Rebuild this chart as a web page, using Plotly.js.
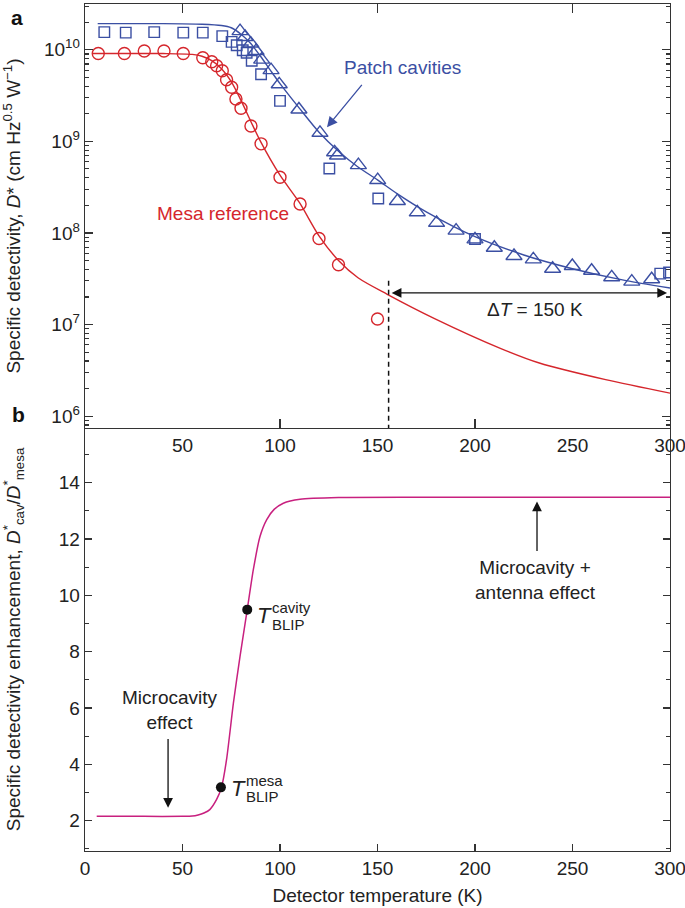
<!DOCTYPE html>
<html><head><meta charset="utf-8">
<script src="https://cdn.plot.ly/plotly-3.0.1.min.js"></script>
<style>html,body{margin:0;padding:0;background:#fff}#c{width:685px;height:908px}</style>
</head><body><div id="c"></div>
<script>
// ---- Panel a: measured D* (cm Hz^0.5 W^-1) vs temperature (K)
var mesaT = [6.8, 20.2, 30.4, 40.5, 50.4, 60.4, 65, 67.5, 70.4, 72.6, 75.2, 77.4, 80, 85.1, 90.3, 100, 110.3, 120, 130, 150];
var mesaD = [9.1e9, 9.1e9, 9.7e9, 9.7e9, 9.1e9, 8.2e9, 7.4e9, 6.7e9, 5.9e9, 4.7e9, 3.9e9, 2.9e9, 2.3e9, 1.47e9, 9.4e8, 4.05e8, 2.07e8, 8.7e7, 4.5e7, 1.15e7];

var squareT = [9.9, 20.9, 35.5, 50.4, 60.4, 70.4, 75.2, 77.8, 80.9, 82.9, 85.5, 90.3, 100, 125.3, 150.4, 200, 295, 299.5];
var squareD = [1.56e10, 1.54e10, 1.56e10, 1.54e10, 1.54e10, 1.41e10, 1.22e10, 1.12e10, 9.9e9, 9.3e9, 7.6e9, 5.4e9, 2.77e9, 5.06e8, 2.38e8, 8.6e7, 3.6e7, 3.7e7];

var triT = [79.5, 82.1, 85, 87.7, 90.6, 95.4, 99.6, 109.7, 120.5, 128, 129.5, 140.2, 150.1, 160.2, 170.4, 180.3, 190.3, 200, 209.9, 220, 229.9, 239.8, 249.9, 259.8, 270.1, 280.4, 290.6];
var triD = [1.6e10, 1.38e10, 1.17e10, 9.7e9, 7.8e9, 6.0e9, 4.2e9, 2.23e9, 1.24e9, 7.6e8, 7.0e8, 5.5e8, 3.78e8, 2.23e8, 1.68e8, 1.29e8, 1.06e8, 8.5e7, 6.9e7, 5.6e7, 5.15e7, 4.07e7, 4.36e7, 3.87e7, 3.28e7, 2.94e7, 3.12e7];

// fitted curves
var cavFitT = [6.5, 40, 60, 70, 75, 80, 85, 90, 95, 100, 110, 120, 130, 140, 150, 160, 175, 200, 225, 250, 275, 300];
var cavFitD = [1.93e10, 1.93e10, 1.9e10, 1.84e10, 1.74e10, 1.48e10, 1.17e10, 8.5e9, 6.0e9, 4.27e9, 2.29e9, 1.26e9, 7.8e8, 5.25e8, 3.8e8, 2.69e8, 1.7e8, 9.1e7, 5.75e7, 4.07e7, 3.09e7, 2.5e7];

var mesaFitT = [4, 40, 55, 60, 65, 70, 75, 80, 85, 90, 100, 110, 120, 130, 140, 155, 179, 213, 233, 267, 300];
var mesaFitD = [9.1e9, 9.1e9, 8.9e9, 8.5e9, 7.6e9, 6.2e9, 4.5e9, 2.8e9, 1.66e9, 1.0e9, 4.27e8, 2.14e8, 9.3e7, 5.0e7, 3.24e7, 2.14e7, 1.17e7, 5.5e6, 3.8e6, 2.5e6, 1.78e6];

var dashT = [155.7, 155.7];
var dashD = [3.0e7, 7.0e5];

// ---- Panel b: enhancement D*cav / D*mesa
var enhT = [6, 30, 50, 55, 58, 61, 64, 67.5, 70, 72.6, 76.1, 79.5, 83.2, 86.3, 89.7, 93.2, 97, 101.7, 110.3, 130, 170, 230, 300];
var enhV = [2.15, 2.15, 2.15, 2.16, 2.2, 2.27, 2.39, 2.75, 3.18, 4.17, 6.17, 7.83, 9.49, 10.9, 12.08, 12.69, 13.05, 13.27, 13.41, 13.47, 13.48, 13.48, 13.48];

var blipT = [69.7, 83.2];
var blipV = [3.18, 9.49];

var xTicks = [0, 50, 100, 150, 200, 250, 300];
var topXTicks = [50, 100, 150, 200, 250, 300];
var topPanelBottomMarks = [100, 200];
var topPanelTopMarks = [50, 150, 250];
var logTicks = [1e6, 1e7, 1e8, 1e9, 1e10];
var logTickText = ['10<sup>6</sup>', '10<sup>7</sup>', '10<sup>8</sup>', '10<sup>9</sup>', '10<sup>10</sup>'];
var linTicks = [2, 4, 6, 8, 10, 12, 14];

var BLUE = '#3b4fa3', RED = '#d5262c', MAG = '#c8207f', AX = '#333333', TXT = '#222222';
var FONT = 'Liberation Sans, Arial, Helvetica, sans-serif';
var FS = 19;

var minorLog = [];
for (var e = 5; e <= 10; e++) for (var m = 2; m <= 9; m++) minorLog.push(m * Math.pow(10, e));

var traces = [
  {x: mesaFitT, y: mesaFitD, xaxis: 'x2', yaxis: 'y2', mode: 'lines', line: {color: RED, width: 1.4, shape: 'spline', smoothing: 0.8}, hoverinfo: 'skip'},
  {x: cavFitT, y: cavFitD, xaxis: 'x2', yaxis: 'y2', mode: 'lines', line: {color: BLUE, width: 1.4, shape: 'spline', smoothing: 0.8}, hoverinfo: 'skip'},
  {x: mesaT, y: mesaD, xaxis: 'x2', yaxis: 'y2', mode: 'markers', marker: {symbol: 'circle-open', size: 12, color: RED, line: {width: 1.4, color: RED}}},
  {x: squareT, y: squareD, xaxis: 'x2', yaxis: 'y2', mode: 'markers', marker: {symbol: 'square-open', size: 10.5, color: BLUE, line: {width: 1.4, color: BLUE}}},
  {x: triT, y: triD, xaxis: 'x2', yaxis: 'y2', mode: 'markers', marker: {symbol: 'triangle-up-open', size: 14, color: BLUE, line: {width: 1.4, color: BLUE}}},
  {x: dashT, y: dashD, xaxis: 'x2', yaxis: 'y2', mode: 'lines', line: {color: '#111', width: 1.5, dash: '5px,4px'}, hoverinfo: 'skip'},
  {x: enhT, y: enhV, xaxis: 'x', yaxis: 'y', mode: 'lines', line: {color: MAG, width: 1.5, shape: 'spline', smoothing: 0.6}, hoverinfo: 'skip'},
  {x: blipT, y: blipV, xaxis: 'x', yaxis: 'y', mode: 'markers', marker: {symbol: 'circle', size: 10, color: '#111'}},
  // empty carriers so the two tick-only overlay axes are drawn
  {x: [null], y: [null], xaxis: 'x3', yaxis: 'y2', mode: 'markers', hoverinfo: 'skip'},
  {x: [null], y: [null], xaxis: 'x4', yaxis: 'y2', mode: 'markers', hoverinfo: 'skip'}
];

var annotations = [
  {xref: 'paper', yref: 'paper', x: -0.13, y: 1.0, xanchor: 'left', yanchor: 'top', text: '<b>a</b>', showarrow: false, font: {size: 21, color: '#111'}},
  {xref: 'paper', yref: 'paper', x: -0.128, y: 0.515, xanchor: 'left', yanchor: 'middle', text: '<b>b</b>', showarrow: false, font: {size: 21, color: '#111'}},
  {xref: 'x2', yref: 'y2', x: 162.6, y: 9.809, text: 'Patch cavities', showarrow: false, font: {size: FS, color: BLUE}},
  {xref: 'x2', yref: 'y2', x: 124.1, y: 9.154, axref: 'x2', ayref: 'y2', ax: 142.6, ay: 9.634, text: '', showarrow: true, arrowhead: 2, arrowsize: 1.6, arrowwidth: 1.3, arrowcolor: BLUE},
  {xref: 'x2', yref: 'y2', x: 70.8, y: 8.215, text: 'Mesa reference', showarrow: false, font: {size: FS, color: RED}},
  {xref: 'x2', yref: 'y2', x: 298.5, y: 7.345, axref: 'x2', ayref: 'y2', ax: 156.5, ay: 7.345, text: '', showarrow: true, arrowside: 'end+start', arrowhead: 2, startarrowhead: 2, arrowsize: 1.5, startarrowsize: 1.5, arrowwidth: 1.3, arrowcolor: '#111'},
  {xref: 'x2', yref: 'y2', x: 230.8, y: 7.167, text: '\u0394<i>T</i> = 150 K', showarrow: false, font: {size: FS, color: TXT}},
  {xref: 'x', yref: 'y', x: 43.6, y: 5.94, text: 'Microcavity<br>effect', showarrow: false, font: {size: FS, color: TXT}},
  {xref: 'x', yref: 'y', x: 42.6, y: 2.46, axref: 'x', ayref: 'y', ax: 42.6, ay: 4.95, text: '', showarrow: true, arrowhead: 2, arrowsize: 1.5, arrowwidth: 1.3, arrowcolor: '#111'},
  {xref: 'x', yref: 'y', x: 230.8, y: 10.56, text: 'Microcavity +<br>antenna effect', showarrow: false, font: {size: FS, color: TXT}},
  {xref: 'x', yref: 'y', x: 231.8, y: 13.33, axref: 'x', ayref: 'y', ax: 231.8, ay: 11.52, text: '', showarrow: true, arrowhead: 2, arrowsize: 1.5, arrowwidth: 1.3, arrowcolor: '#111'},
  {xref: 'x', yref: 'y', x: 91.8, y: 9.28, text: '<i>T</i>', showarrow: false, font: {size: 22, color: TXT}},
  {xref: 'x', yref: 'y', x: 95.0, y: 9.58, xanchor: 'left', text: 'cavity', showarrow: false, font: {size: 15, color: TXT}},
  {xref: 'x', yref: 'y', x: 95.0, y: 8.98, xanchor: 'left', text: 'BLIP', showarrow: false, font: {size: 15, color: TXT}},
  {xref: 'x', yref: 'y', x: 78.5, y: 3.14, text: '<i>T</i>', showarrow: false, font: {size: 22, color: TXT}},
  {xref: 'x', yref: 'y', x: 81.6, y: 3.44, xanchor: 'left', text: 'mesa', showarrow: false, font: {size: 15, color: TXT}},
  {xref: 'x', yref: 'y', x: 81.6, y: 2.84, xanchor: 'left', text: 'BLIP', showarrow: false, font: {size: 15, color: TXT}}
];

var layout = {
  width: 685, height: 908,
  margin: {l: 85, r: 15, t: 4, b: 57},
  paper_bgcolor: '#fff', plot_bgcolor: '#fff',
  showlegend: false,
  font: {family: FONT, size: FS, color: TXT},
  xaxis: {
    domain: [0, 1], anchor: 'y', range: [0, 300],
    tickmode: 'array', tickvals: xTicks, ticklabeloverflow: 'allow',
    ticks: 'inside', ticklen: 7, tickwidth: 1.2, tickcolor: AX,
    showline: true, linecolor: AX, linewidth: 1.3, showgrid: false, zeroline: false,
    tickfont: {size: FS, color: TXT},
    title: {text: 'Detector temperature (K)', font: {size: FS, color: TXT}, standoff: 10}
  },
  yaxis: {
    domain: [0, 0.4994], anchor: 'x', range: [0.92, 15.94],
    tickmode: 'array', tickvals: linTicks,
    ticks: 'inside', ticklen: 7, tickwidth: 1.2, tickcolor: AX,
    minor: {dtick: 1, ticks: 'inside', ticklen: 4, tickwidth: 1.1, tickcolor: AX, showgrid: false},
    showline: true, linecolor: AX, linewidth: 1.3, mirror: 'ticks', showgrid: false, zeroline: false,
    tickfont: {size: FS, color: TXT},
    title: {text: 'Specific detectivity enhancement, <i>D</i><sup>*</sup><sub>cav</sub>/<i>D</i><sup>*</sup><sub>mesa</sub>', font: {size: FS, color: TXT}, standoff: 34}
  },
  xaxis2: {
    domain: [0, 1], anchor: 'y2', range: [0, 300],
    tickmode: 'array', tickvals: topXTicks, ticklabeloverflow: 'allow',
    ticks: '',
    showline: true, linecolor: AX, linewidth: 1.3, mirror: true, showgrid: false, zeroline: false,
    tickfont: {size: FS, color: TXT}
  },
  xaxis3: {
    overlaying: 'x2', anchor: 'y2', side: 'bottom', range: [0, 300],
    tickmode: 'array', tickvals: topPanelBottomMarks, showticklabels: false,
    ticks: 'inside', ticklen: 9, tickwidth: 1.3, tickcolor: AX,
    showline: false, showgrid: false, zeroline: false
  },
  xaxis4: {
    overlaying: 'x2', anchor: 'y2', side: 'top', range: [0, 300],
    tickmode: 'array', tickvals: topPanelTopMarks, showticklabels: false,
    ticks: 'inside', ticklen: 9, tickwidth: 1.3, tickcolor: AX,
    showline: false, showgrid: false, zeroline: false
  },
  yaxis2: {
    domain: [0.4994, 1], anchor: 'x2', type: 'log', range: [5.87, 10.5],
    tickmode: 'array', tickvals: logTicks, ticktext: logTickText,
    ticks: 'inside', ticklen: 8, tickwidth: 1.2, tickcolor: AX,
    minor: {tickmode: 'array', tickvals: minorLog, ticks: 'inside', ticklen: 4, tickwidth: 1.1, tickcolor: AX, showgrid: false},
    showline: true, linecolor: AX, linewidth: 1.3, mirror: 'ticks', showgrid: false, zeroline: false,
    tickfont: {size: FS, color: TXT},
    title: {text: 'Specific detectivity, <i>D</i>* (cm Hz<sup>0.5</sup> W<sup>\u22121</sup>)', font: {size: FS, color: TXT}, standoff: 18}
  },
  annotations: annotations
};

Plotly.newPlot('c', traces, layout, {staticPlot: true});
</script></body></html>
